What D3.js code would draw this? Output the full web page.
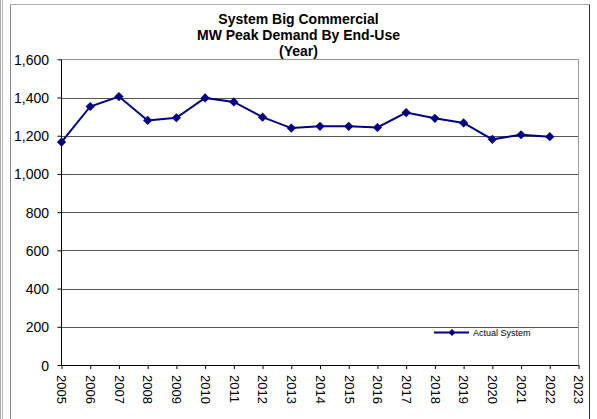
<!DOCTYPE html>
<html><head><meta charset="utf-8">
<script src="https://cdn.jsdelivr.net/npm/d3@7/dist/d3.min.js"></script>
<style>
html,body{margin:0;padding:0;background:#fff;}
svg{display:block;font-family:Arial,"Liberation Sans",sans-serif;}
</style></head>
<body><svg id="c" width="597" height="419"></svg>
<script>
const titleLines = ["System Big Commercial", "MW Peak Demand By End-Use", "(Year)"];
const years = [2005,2006,2007,2008,2009,2010,2011,2012,2013,2014,2015,2016,2017,2018,2019,2020,2021,2022];
const actualSystem = [1167,1353,1405,1280,1294,1398,1377,1297,1240,1249,1249,1243,1321,1291,1267,1181,1205,1195];
const xTickYears = [2005,2006,2007,2008,2009,2010,2011,2012,2013,2014,2015,2016,2017,2018,2019,2020,2021,2022,2023];
const yTicks = [0,200,400,600,800,1000,1200,1400,1600];
const legendLabel = "Actual System";

const svg = d3.select("#c");
const L = 61.5, R = 578.5, T = 59.3, B = 365;
const x = d3.scaleLinear().domain([2005, 2023]).range([L, R]);
const y = d3.scaleLinear().domain([0, 1600]).range([B, T]);

// outer frames
svg.append("line").attr("x1",0.5).attr("x2",0.5).attr("y1",0).attr("y2",419).attr("stroke","#aaa");
svg.append("line").attr("x1",2.5).attr("x2",2.5).attr("y1",0).attr("y2",419).attr("stroke","#bbb");
svg.append("line").attr("x1",10.5).attr("x2",10.5).attr("y1",4.5).attr("y2",419).attr("stroke","#888");
svg.append("line").attr("x1",10.5).attr("x2",589.5).attr("y1",4.5).attr("y2",4.5).attr("stroke","#aaa");
svg.append("line").attr("x1",589.5).attr("x2",589.5).attr("y1",4.5).attr("y2",419).attr("stroke","#333");

// gridlines
svg.append("g").selectAll("line").data(yTicks.filter(d=>d>0)).join("line")
  .attr("x1", L).attr("x2", R)
  .attr("y1", d=>Math.round(y(d))+0.5).attr("y2", d=>Math.round(y(d))+0.5)
  .attr("stroke", (d,i)=> d===1600 ? "#999" : "#555").attr("stroke-width",1);
// right border of plot
svg.append("line").attr("x1",R).attr("x2",R).attr("y1",Math.round(T)+0.5).attr("y2",B).attr("stroke","#999");

// y axis
const yAxis = d3.axisLeft(y).tickValues(yTicks).tickSize(4).tickFormat(d3.format(","));
const gy = svg.append("g").attr("transform",`translate(${L},0)`).call(yAxis);
gy.select(".domain").attr("stroke","#000").attr("d",`M0,${Math.round(T)+0.5}V${B}`);
gy.selectAll(".tick line").attr("stroke","#000");
gy.selectAll(".tick text").attr("font-size","14px").attr("fill","#000").attr("x",-12.5).attr("dy","0.36em")
  .attr("font-family","Arial, 'Liberation Sans', sans-serif");

// x axis
const xAxis = d3.axisBottom(x).tickValues(xTickYears).tickSize(4).tickFormat(d3.format("d"));
const gx = svg.append("g").attr("transform",`translate(0,${B})`).call(xAxis);
gx.select(".domain").attr("stroke","#000").attr("d",`M${L},0.5H${R}`);
gx.selectAll(".tick line").attr("stroke","#000");
gx.selectAll(".tick text").attr("font-size","13px").attr("fill","#000")
  .attr("font-family","Arial, 'Liberation Sans', sans-serif")
  .attr("transform","translate(0,10) rotate(90)")
  .attr("x",0).attr("y",0).attr("dy","0.36em").attr("text-anchor","start");

// line
const navy = "#000080";
svg.append("path").datum(years.map((d,i)=>[d,actualSystem[i]]))
  .attr("fill","none").attr("stroke",navy).attr("stroke-width",2)
  .attr("d", d3.line().x(d=>x(d[0])).y(d=>y(d[1])));
const dia = (s)=>`M0,${-s}L${s},0L0,${s}L${-s},0Z`;
svg.append("g").selectAll("path").data(years.map((d,i)=>[d,actualSystem[i]])).join("path")
  .attr("d", dia(4.6)).attr("fill",navy)
  .attr("transform", d=>`translate(${x(d[0])},${y(d[1])})`);

// title
const tt = svg.append("text").attr("text-anchor","middle").attr("font-weight","bold")
  .attr("font-size","14px").attr("fill","#000");
titleLines.forEach((t,i)=> tt.append("tspan").attr("x",298.5).attr("y",24+i*16).text(t));

// legend
const lg = svg.append("g").attr("transform","translate(434,332.5)");
lg.append("line").attr("x1",0).attr("x2",35).attr("stroke",navy).attr("stroke-width",2);
lg.append("path").attr("d",dia(3.5)).attr("fill",navy).attr("transform","translate(18,0)");
lg.append("text").attr("x",39).attr("y",0).attr("dy","0.35em").attr("font-size","9px").attr("fill","#000").text(legendLabel);
</script></body></html>
